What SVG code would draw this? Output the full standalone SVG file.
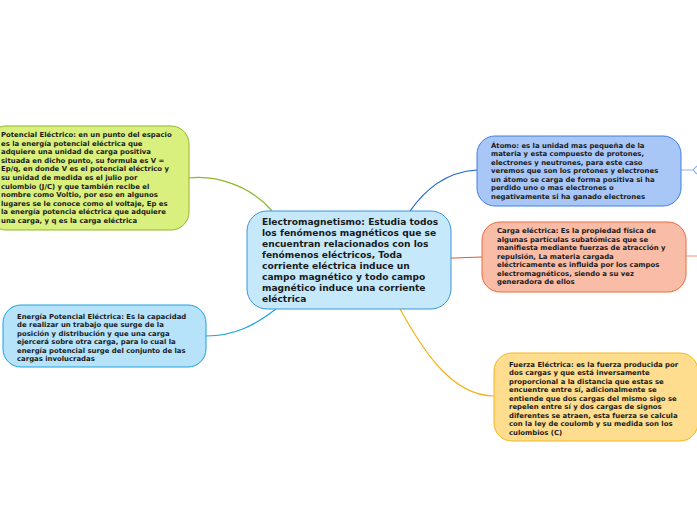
<svg xmlns="http://www.w3.org/2000/svg" width="697" height="520" viewBox="0 0 697 520">
<style>
.t{font-family:"DejaVu Sans",Verdana,sans-serif;font-weight:bold;fill:#1a1a1a}
.s{font-size:6.9px}
.c{font-size:9.1px}
.n{stroke-width:1}
.e{fill:none;stroke-width:1.2}
</style>
<rect width="697" height="520" fill="#ffffff"/>
<g id="connectors">
<path class="e" stroke="#8db82a" d="M272,211 C250,185 215,175 189,178"/>
<path class="e" stroke="#1ca1e0" d="M276,309 C255,325 235,336 206,336"/>
<path class="e" stroke="#1a5fd0" d="M410,211 C425,190 445,172 477,170"/>
<path class="e" stroke="#e8582a" d="M451,258 C462,258 470,257 482,257"/>
<path class="e" stroke="#f5b21c" d="M400,309 C420,345 450,396 494,396"/>
<path class="e" stroke="#8fb4ee" d="M681,170 L694,170 M697,166 L693,170 L697,174"/>
<path class="e" stroke="#f5a58a" d="M686,256 L697,256"/>
</g>
<g id="node-central">
<rect class="n" x="247" y="211" width="204" height="98" rx="20" fill="#c5e9fb" stroke="#3d95d8"/>
<text class="t c" x="262"><tspan x="262" y="224.5">Electromagnetismo: Estudia todos</tspan><tspan x="262" y="235.5">los fenómenos magnéticos que se</tspan><tspan x="262" y="246.5">encuentran relacionados con los</tspan><tspan x="262" y="257.5">fenómenos eléctricos, Toda</tspan><tspan x="262" y="268.5">corriente eléctrica induce un</tspan><tspan x="262" y="279.5">campo magnético y todo campo</tspan><tspan x="262" y="290.5">magnético induce una corriente</tspan><tspan x="262" y="301.5">eléctrica</tspan></text>
</g>
<g id="node-potencial">
<rect class="n" x="-12" y="126" width="201" height="104" rx="18" fill="#d9f07e" stroke="#8db82a"/>
<text class="t s"><tspan x="1" y="137">Potencial Eléctrico: en un punto del espacio</tspan><tspan x="1" y="145.6">es la energía potencial eléctrica que</tspan><tspan x="1" y="154.2">adquiere una unidad de carga positiva</tspan><tspan x="1" y="162.8">situada en dicho punto,  su formula es V =</tspan><tspan x="1" y="171.4">Ep/q, en donde V es el potencial eléctrico y</tspan><tspan x="1" y="180">su unidad de medida es el julio por</tspan><tspan x="1" y="188.6">culombio (J/C) y que también recibe el</tspan><tspan x="1" y="197.2">nombre como Voltio, por eso en algunos</tspan><tspan x="1" y="205.8">lugares se le conoce como el voltaje, Ep es</tspan><tspan x="1" y="214.4">la energía potencia eléctrica que adquiere</tspan><tspan x="1" y="223">una carga, y q es la carga eléctrica</tspan></text>
</g>
<g id="node-energia">
<rect class="n" x="3" y="305" width="203" height="62" rx="18" fill="#b6e3fa" stroke="#1ca1e0"/>
<text class="t s"><tspan x="17" y="318.5">Energía Potencial Eléctrica: Es la capacidad</tspan><tspan x="17" y="327">de realizar un trabajo que surge de la</tspan><tspan x="17" y="335.5">posición y distribución y que una carga</tspan><tspan x="17" y="344">ejercerá sobre otra carga, para lo cual la</tspan><tspan x="17" y="352.5">energía potencial surge del conjunto de las</tspan><tspan x="17" y="361">cargas involucradas</tspan></text>
</g>
<g id="node-atomo">
<rect class="n" x="477" y="136" width="204" height="70" rx="18" fill="#a8c7f7" stroke="#3f7fe0"/>
<text class="t s"><tspan x="491" y="147.5">Átomo: es la unidad mas pequeña de la</tspan><tspan x="491" y="156">materia y esta compuesto de protones,</tspan><tspan x="491" y="164.5">electrones y neutrones, para este caso</tspan><tspan x="491" y="173">veremos que son los protones y electrones</tspan><tspan x="491" y="181.5">un átomo se carga de forma positiva si ha</tspan><tspan x="491" y="190">perdido uno o mas electrones o</tspan><tspan x="491" y="198.5">negativamente si ha ganado electrones</tspan></text>
</g>
<g id="node-carga">
<rect class="n" x="482" y="222" width="204" height="70" rx="18" fill="#f8bca7" stroke="#ee6a3c"/>
<text class="t s"><tspan x="497" y="233">Carga eléctrica: Es la propiedad física de</tspan><tspan x="497" y="241.5">algunas partículas subatómicas que se</tspan><tspan x="497" y="250">manifiesta mediante fuerzas de atracción y</tspan><tspan x="497" y="258.5">repulsión, La materia cargada</tspan><tspan x="497" y="267">eléctricamente es influida por los campos</tspan><tspan x="497" y="275.5">electromagnéticos, siendo a su vez</tspan><tspan x="497" y="284">generadora de ellos</tspan></text>
</g>
<g id="node-fuerza">
<rect class="n" x="494" y="353" width="204" height="88" rx="18" fill="#fedd8e" stroke="#f5b71c"/>
<text class="t s"><tspan x="509" y="366.5">Fuerza Eléctrica: es la fuerza producida por</tspan><tspan x="509" y="375">dos cargas y que está inversamente</tspan><tspan x="509" y="383.5">proporcional a la distancia que estas se</tspan><tspan x="509" y="392">encuentre entre sí, adicionalmente se</tspan><tspan x="509" y="400.5">entiende que dos cargas del mismo sigo se</tspan><tspan x="509" y="409">repelen entre sí y dos cargas  de signos</tspan><tspan x="509" y="417.5">diferentes se atraen, esta fuerza se calcula</tspan><tspan x="509" y="426">con la ley de coulomb y su medida son los</tspan><tspan x="509" y="434.5">culombios (C)</tspan></text>
</g>
</svg>
